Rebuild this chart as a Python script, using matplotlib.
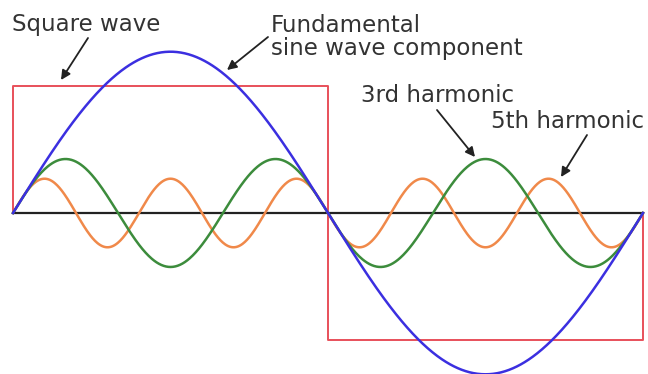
import numpy as np
import matplotlib
matplotlib.use('Agg')
import matplotlib.pyplot as plt

# harmonic components of a square wave (amplitudes,
# square wave level = 1)
orders = [1, 3, 5]
amplitudes = [1.27, 0.425, 0.27]
colors = ['#3b2fe0', '#3c8c3c', '#f0894a']

# square wave: level in each half period
square_edges = [0, np.pi, 2 * np.pi]
square_levels = [1, -1]

labels = ['Square wave', 'Fundamental\nsine wave component', '3rd harmonic', '5th harmonic']

W, H = 648, 374
fig = plt.figure(figsize=(W / 100, H / 100), dpi=100)
ax = fig.add_axes([0, 0, 1, 1])

# pixel layout of the reference: x=0 -> 13px, x=2pi -> 643px, y=0 -> 213px, y=1 -> 86px
x0, x1, y0, yscale = 13, 643, 213, 127
sx = (x1 - x0) / (2 * np.pi)
ax.set_xlim(-x0 / sx, (W - x0) / sx)
ax.set_ylim(-(H - y0) / yscale, y0 / yscale)
ax.axis('off')

def fig_px(px, py):
    return px / W, 1 - py / H

t = np.linspace(0, 2 * np.pi, 800)

# zero axis
ax.plot([0, 2 * np.pi], [0, 0], color='#222222', lw=1.6, zorder=1)

# square wave
sq_x = [square_edges[0], square_edges[0], square_edges[1], square_edges[1], square_edges[2], square_edges[2]]
sq_y = [0, square_levels[0], square_levels[0], square_levels[1], square_levels[1], 0]
ax.plot(sq_x, sq_y, color='#e8505a', lw=1.4, zorder=2)

for n, a, c in zip(orders[::-1], amplitudes[::-1], colors[::-1]):
    ax.plot(t, a * np.sin(n * t), color=c, lw=1.8, zorder=3)

txt = dict(color='#333333', fontsize=16.5, family='DejaVu Sans', transform=fig.transFigure, va='baseline')
ax.text(*fig_px(12, 31), labels[0], **txt)
ax.text(*fig_px(271, 32), labels[1].split('\n')[0], **txt)
ax.text(*fig_px(271, 55), labels[1].split('\n')[1], **txt)
ax.text(*fig_px(361, 102), labels[2], **txt)
ax.text(*fig_px(491, 128), labels[3], **txt)

arrows = [((88, 38), (61, 80)), ((268, 37), (227, 70)), ((437, 110), (475, 157)), ((587, 135), (561, 177))]
for tail, tip in arrows:
    ax.annotate('', xy=fig_px(*tip), xycoords='figure fraction',
                xytext=fig_px(*tail), textcoords='figure fraction',
                arrowprops=dict(arrowstyle='-|>', color='#222222', lw=1.3, mutation_scale=14,
                                shrinkA=0, shrinkB=0))

fig.savefig('out.png', dpi=100)
